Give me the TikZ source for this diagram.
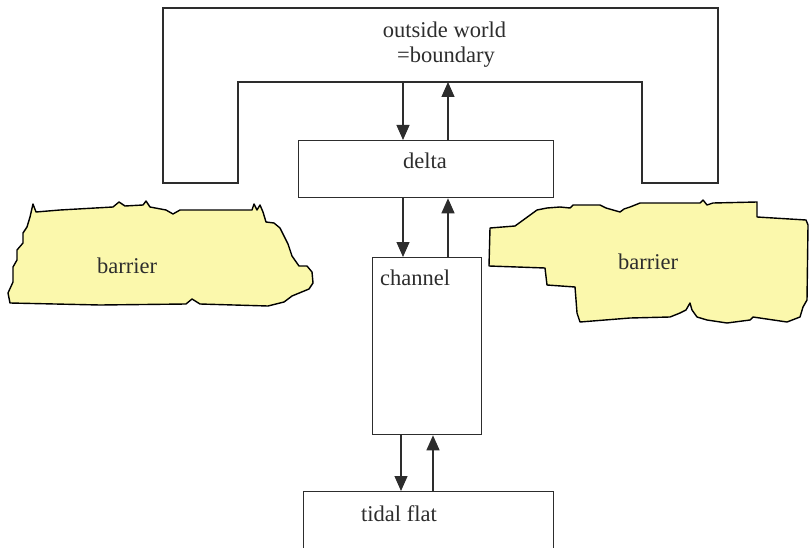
\documentclass[tikz,border=0pt]{standalone}
\usepackage{fontspec}
\setmainfont{Liberation Serif}
\usetikzlibrary{arrows.meta}
\definecolor{barrierfill}{RGB}{251,248,172}
\definecolor{linec}{RGB}{45,45,45}
\begin{document}
\begin{tikzpicture}[x=1pt,y=-1pt,
  every node/.style={font=\fontsize{22.5}{25}\selectfont, inner sep=0pt, text=linec},
  boxline/.style={draw=linec, line width=1.3pt},
  boxnode/.style={boxline, rectangle, anchor=north west},
  flow/.style={draw=linec, line width=1.2pt, -{Triangle[length=15pt,width=13pt]}},
  blob/.style={draw=black, line width=1.4pt, fill=barrierfill, line join=round},
  lbl/.style={anchor=base},
  lblw/.style={anchor=base west}]
\useasboundingbox (0,0) rectangle (810,548);
\clip (0,0) rectangle (810,548);
\fill[white] (0,0) rectangle (810,548);

% barriers
\draw[blob] (33,204) -- (36,212) -- (60,210) -- (113,207) -- (119,202) -- (125,206) -- (143,205) -- (146,201) -- (150,207) -- (166,210) -- (173,214) -- (180,210) -- (252,210) -- (254,204) -- (257,210) -- (260,205) -- (263,212) -- (266,222) -- (274,223) -- (280,228) -- (284,236) -- (288,244) -- (292,256) -- (299,266) -- (307,266) -- (312,272) -- (313,283) -- (309,289) -- (292,296) -- (284,302) -- (268,306) -- (200,304) -- (192,299) -- (186,304) -- (100,305) -- (10,303) -- (8,293) -- (13,282) -- (13,267) -- (17,260) -- (17,250) -- (23,243) -- (23,233) -- (27,227) -- (30,217) -- cycle;
\draw[blob] (537,210) -- (547,208) -- (560,207) -- (570,208) -- (573,205) -- (600,205) -- (606,208) -- (620,212) -- (624,209) -- (630,207) -- (640,203) -- (700,203) -- (703,200) -- (707,205) -- (713,203) -- (757,202) -- (757,217) -- (806,220) -- (808,225) -- (807,300) -- (803,307) -- (800,317) -- (787,322) -- (753,317) -- (750,320) -- (727,323) -- (707,320) -- (697,317) -- (692,310) -- (690,303) -- (686,310) -- (680,313) -- (670,317) -- (630,318) -- (580,322) -- (577,313) -- (575,287) -- (547,285) -- (545,268) -- (489,266) -- (490,228) -- (515,226) -- cycle;
\node[lblw] (lbar) at (97,273) {barrier};
\node[lblw] (rbar) at (618,269) {barrier};

% outside world
\draw[boxline, line join=miter] (163,183) -- (163,8) -- (718,8) -- (718,183) -- (642,183) -- (642,82) -- (238,82) -- (238,183) -- cycle;
\coordinate (owA) at (403,82);
\coordinate (owB) at (448,82);
\node[lbl] (owt1) at (444.5,38) {outside world};
\node[lbl] (owt2) at (446,63) {=boundary};

% boxes
\node[boxnode, minimum width=255pt, minimum height=57pt] (delta) at (298,140) {};
\node[boxnode, minimum width=109pt, minimum height=177pt] (channel) at (372,257) {};
\node[boxnode, minimum width=250pt, minimum height=90pt] (tidal) at (303,491) {};
\node[lbl] (dlt) at (425,168) {delta};
\node[lblw] (cht) at (380,285) {channel};
\node[lblw] (tft) at (361,521) {tidal flat};

% lower arrow columns
\coordinate (xa) at (401,0);
\coordinate (xb) at (433,0);

% flows
\draw[flow] (owA) -- (owA |- delta.north);
\draw[flow] (owB |- delta.north) -- (owB);
\draw[flow] (delta.south -| owA) -- (owA |- channel.north);
\draw[flow] (channel.north -| owB) -- (owB |- delta.south);
\draw[flow] (channel.south -| xa) -- (xa |- tidal.north);
\draw[flow] (tidal.north -| xb) -- (xb |- channel.south);
\end{tikzpicture}
\end{document}
